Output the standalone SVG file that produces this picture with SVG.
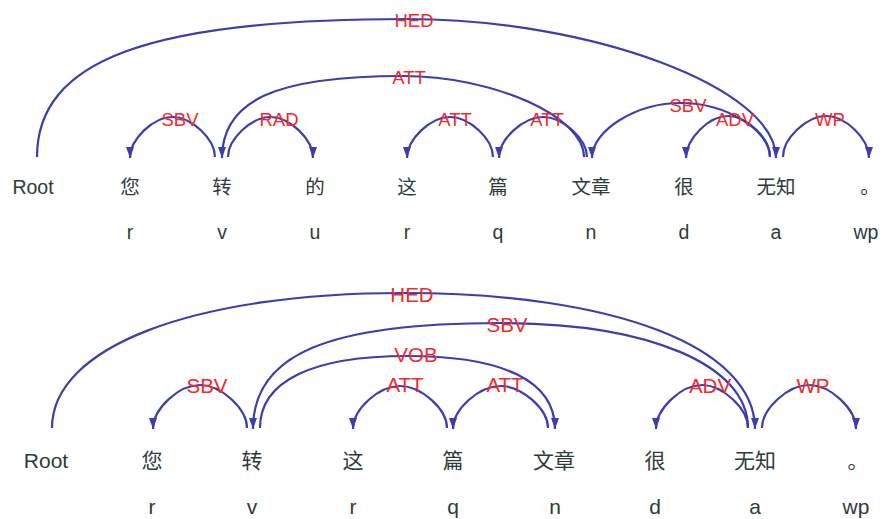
<svg xmlns="http://www.w3.org/2000/svg" width="884" height="519" viewBox="0 0 884 519">
<style>
.arc{fill:none;stroke:#3b3db0;stroke-width:2.2}
.lbl{font-family:"Liberation Sans",Arial,sans-serif;fill:#f42a2a;text-anchor:middle;font-size:18.5px}
.lbl2{font-size:20.5px}
.w{font-family:"Liberation Sans","Noto Sans CJK SC",sans-serif;fill:#2e3b3b;text-anchor:middle;font-size:19.5px}
.w2{font-size:21px}
</style>
<defs>
<marker id="ah" markerUnits="userSpaceOnUse" viewBox="0 0 11 8" markerWidth="11" markerHeight="8" refX="11" refY="4" orient="auto">
<path d="M0,0 L11,4 L0,8 z" fill="#3b3db0"/>
</marker>
</defs>
<rect width="884" height="519" fill="#ffffff"/>

<g id="connectors">
<!-- top tree -->
<path class="arc" marker-end="url(#ah)" d="M37,157 C37,60.4 147.9,19 406.5,19 C591.3,19 776,88 776,158"/>
<path class="arc" marker-end="url(#ah)" d="M584,157 C584,116.5 493.5,76 403,76 C276.3,76 222,100.3 222,158"/>
<path class="arc" marker-end="url(#ah)" d="M215,157 C215,139 191.6,117 172.5,117 C153.4,117 130,139 130,158"/>
<path class="arc" marker-end="url(#ah)" d="M228,157 C228,139 251.4,117 270.5,117 C289.6,117 313,139 313,158"/>
<path class="arc" marker-end="url(#ah)" d="M493,157 C493,139 469.4,117 450,117 C430.6,117 407,139 407,158"/>
<path class="arc" marker-end="url(#ah)" d="M587,157 C587,139 562.8,117 543,117 C523.2,117 499,139 499,158"/>
<path class="arc" marker-end="url(#ah)" d="M770,157 C770,130 725.5,103 681,103 C636.5,103 592,130 592,158"/>
<path class="arc" marker-end="url(#ah)" d="M770,157 C770,138.5 746.9,116 728,116 C709.1,116 686,138.5 686,158"/>
<path class="arc" marker-end="url(#ah)" d="M783,157 C783,138.5 806.6,116 826,116 C845.4,116 869,138.5 869,158"/>
<text class="lbl" x="414" y="27">HED</text>
<text class="lbl" x="409" y="84">ATT</text>
<text class="lbl" x="180" y="126">SBV</text>
<text class="lbl" x="279" y="126">RAD</text>
<text class="lbl" x="455" y="126">ATT</text>
<text class="lbl" x="547" y="126">ATT</text>
<text class="lbl" x="688" y="112">SBV</text>
<text class="lbl" x="735" y="126">ADV</text>
<text class="lbl" x="830" y="126">WP</text>
<!-- bottom tree -->
<path class="arc" marker-end="url(#ah)" d="M52,428 C52,347 192.6,293 403.5,293 C614.4,293 755,347 755,429"/>
<path class="arc" marker-end="url(#ah)" d="M748,428 C748,365 649,323 500.5,323 C327.3,323 253,354.5 253,429"/>
<path class="arc" marker-end="url(#ah)" d="M260,428 C260,381.2 311.6,356 407.5,356 C503.4,356 555,381.2 555,429"/>
<path class="arc" marker-end="url(#ah)" d="M247,428 C247,408.7 221.2,385 200,385 C178.8,385 153,408.7 153,429"/>
<path class="arc" marker-end="url(#ah)" d="M447,428 C447,409.1 421.2,386 400,386 C378.8,386 353,409.1 353,429"/>
<path class="arc" marker-end="url(#ah)" d="M548,428 C548,409.1 521.9,386 500.5,386 C479.1,386 453,409.1 453,429"/>
<path class="arc" marker-end="url(#ah)" d="M748,428 C748,408.7 722.7,385 702,385 C681.3,385 656,408.7 656,429"/>
<path class="arc" marker-end="url(#ah)" d="M762,428 C762,408.7 787.9,385 809,385 C830.1,385 856,408.7 856,429"/>
<text class="lbl lbl2" x="412" y="302">HED</text>
<text class="lbl lbl2" x="507" y="332">SBV</text>
<text class="lbl lbl2" x="416" y="362">VOB</text>
<text class="lbl lbl2" x="207" y="393">SBV</text>
<text class="lbl lbl2" x="405" y="392">ATT</text>
<text class="lbl lbl2" x="505" y="392">ATT</text>
<text class="lbl lbl2" x="710" y="393">ADV</text>
<text class="lbl lbl2" x="813" y="393">WP</text>
</g>

<!-- top tree nodes -->
<g id="t-root"><text class="w" x="33" y="194">Root</text></g>
<g id="t-nin"><text class="w" x="130" y="194">您</text><text class="w" x="130" y="239">r</text></g>
<g id="t-zhuan"><text class="w" x="222" y="194">转</text><text class="w" x="222" y="239">v</text></g>
<g id="t-de"><text class="w" x="315" y="194">的</text><text class="w" x="315" y="239">u</text></g>
<g id="t-zhe"><text class="w" x="407" y="194">这</text><text class="w" x="407" y="239">r</text></g>
<g id="t-pian"><text class="w" x="498" y="194">篇</text><text class="w" x="498" y="239">q</text></g>
<g id="t-wenzhang"><text class="w" x="591" y="194">文章</text><text class="w" x="591" y="239">n</text></g>
<g id="t-hen"><text class="w" x="684" y="194">很</text><text class="w" x="684" y="239">d</text></g>
<g id="t-wuzhi"><text class="w" x="776" y="194">无知</text><text class="w" x="776" y="239">a</text></g>
<g id="t-period"><text class="w" x="870" y="194">。</text><text class="w" x="866" y="239">wp</text></g>

<!-- bottom tree nodes -->
<g id="b-root"><text class="w w2" x="46" y="468">Root</text></g>
<g id="b-nin"><text class="w w2" x="152" y="468">您</text><text class="w w2" x="152" y="514">r</text></g>
<g id="b-zhuan"><text class="w w2" x="252" y="468">转</text><text class="w w2" x="252" y="514">v</text></g>
<g id="b-zhe"><text class="w w2" x="353" y="468">这</text><text class="w w2" x="353" y="514">r</text></g>
<g id="b-pian"><text class="w w2" x="453" y="468">篇</text><text class="w w2" x="453" y="514">q</text></g>
<g id="b-wenzhang"><text class="w w2" x="554" y="468">文章</text><text class="w w2" x="555" y="514">n</text></g>
<g id="b-hen"><text class="w w2" x="655" y="468">很</text><text class="w w2" x="655" y="514">d</text></g>
<g id="b-wuzhi"><text class="w w2" x="755" y="468">无知</text><text class="w w2" x="755" y="514">a</text></g>
<g id="b-period"><text class="w w2" x="858" y="468">。</text><text class="w w2" x="856" y="514">wp</text></g>
</svg>
